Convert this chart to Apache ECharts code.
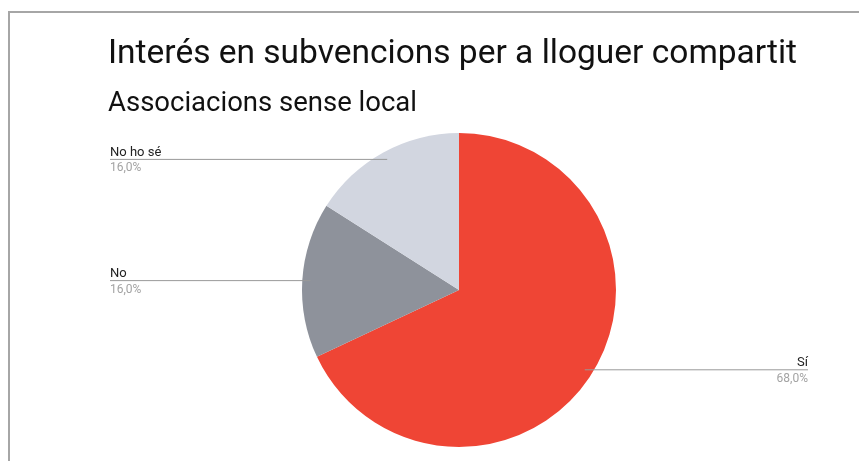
<!DOCTYPE html>
<html>
<head>
<meta charset="utf-8">
<script src="https://cdn.jsdelivr.net/npm/echarts@6/dist/echarts.min.js"></script>
<style>
  html, body { margin: 0; padding: 0; background: #fff; }
  #frame {
    position: absolute; left: 8px; top: 11px; width: 900px; height: 500px;
    border-left: 2px solid #a6a6a6; border-top: 2px solid #a6a6a6;
  }
  #main { position: absolute; left: 0; top: 0; width: 859px; height: 461px; }
</style>
</head>
<body>
<div id="frame"></div>
<div id="main"></div>
<script>
// dades del gràfic
const categories = ['Sí', 'No', 'No ho sé'];
const values = [68, 16, 16];
const colors = ['#ef4535', '#8e929b', '#d2d6e0'];

const chartTitle = 'Interés en subvencions per a lloguer compartit';
const chartSubtitle = 'Associacions sense local';

const myChart = echarts.init(document.getElementById('main'));

const pieData = categories.map((name, i) => ({ name: name, value: values[i] }));

// geometria comuna de les dues capes del pastís
const pieBase = {
  type: 'pie',
  left: 110,
  right: 51,
  top: 0,
  bottom: 0,
  center: ['50%', '62.9%'],
  startAngle: 90,
  clockwise: true,
  data: pieData,
  emphasis: { disabled: true }
};

myChart.setOption({
  animation: false,
  backgroundColor: 'transparent',
  title: {
    text: chartTitle,
    subtext: chartSubtitle,
    left: 108,
    top: 38,
    padding: 0,
    itemGap: 18,
    textStyle: { fontFamily: 'Roboto', fontSize: 33.5, fontWeight: 'normal', color: '#111', lineHeight: 33.5 },
    subtextStyle: { fontFamily: 'Roboto', fontSize: 27.5, color: '#111', lineHeight: 27.5 }
  },
  series: [
    Object.assign({}, pieBase, {
      z: 2,
      radius: 157,
      color: colors,
      label: { show: false },
      labelLine: { show: false }
    }),
    // capa transparent, una mica més petita, només per a les etiquetes:
    // així les línies comencen dins de cada porció
    Object.assign({}, pieBase, {
      z: 3,
      radius: 149,
      itemStyle: { color: 'rgba(0,0,0,0)' },
      label: {
        alignTo: 'edge',
        edgeDistance: 0,
        fontFamily: 'Roboto',
        formatter: (p) => '{n|' + p.name + '}\n{p|' + p.percent.toFixed(1).replace('.', ',') + '%}',
        rich: {
          n: { fontFamily: 'Roboto', fontSize: 13, color: '#222', lineHeight: 16, padding: [2, 0, 0, 0] },
          p: { fontFamily: 'Roboto', fontSize: 12, color: '#a3a3a3', lineHeight: 16, padding: [2, 0, 0, 0] }
        }
      },
      labelLine: {
        length: 0,
        length2: 0,
        lineStyle: { color: '#999', width: 1 }
      },
      labelLayout: function (params) {
        const isLeft = params.labelRect.x < myChart.getWidth() / 2;
        const points = params.labelLinePoints;
        // la línia continua sota el text
        points[2][0] = isLeft ? params.labelRect.x : params.labelRect.x + params.labelRect.width;
        return { labelLinePoints: points };
      }
    })
  ]
});
</script>
</body>
</html>
